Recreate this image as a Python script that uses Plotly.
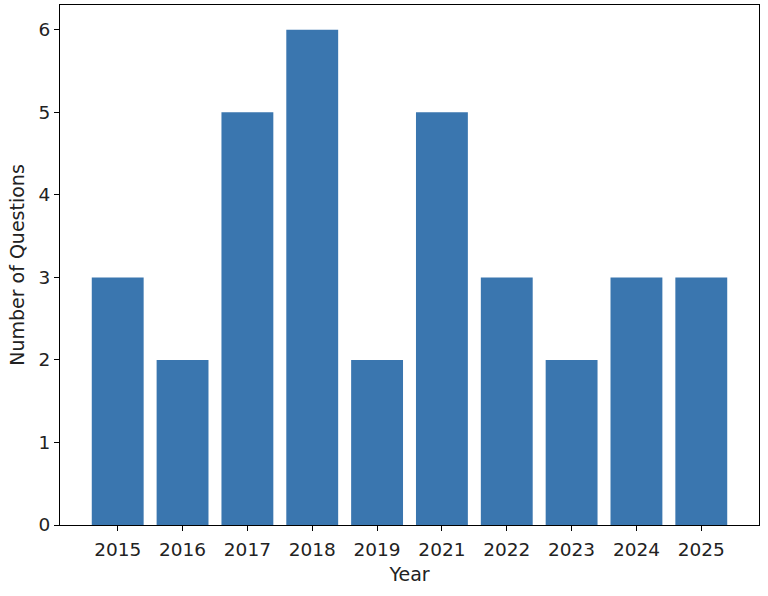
import plotly.graph_objects as gobj

years = ['2015', '2016', '2017', '2018', '2019', '2021', '2022', '2023', '2024', '2025']
question_counts = [3, 2, 5, 6, 2, 5, 3, 2, 3, 3]

fig = gobj.Figure()
fig.add_bar(x=years, y=question_counts, marker_color='#3a76af', marker_line_width=0, width=0.8)

fig.update_xaxes(type='category', range=[-0.89, 9.89], ticks='outside', ticklen=5, tickwidth=1.1,
                 tickcolor='black', showline=True, linecolor='black', linewidth=1.1, mirror=True,
                 showgrid=False, tickfont_size=18.5, ticklabelstandoff=3, title_text='Year',
                 title_font_size=19, title_standoff=8)
fig.update_yaxes(range=[0, 6.3], dtick=1, ticks='outside', ticklen=5, tickwidth=1.1,
                 tickcolor='black', showline=True, linecolor='black', linewidth=1.1, mirror=True,
                 showgrid=False, zeroline=False, tickfont_size=18.5, title_text='Number of Questions',
                 title_font_size=19, title_standoff=8)

fig.update_layout(autosize=False,
    width=768,
    height=596,
    margin=dict(l=60, r=9, t=5, b=71),
    plot_bgcolor='white',
    paper_bgcolor='white',
    font=dict(family='DejaVu Sans', color='#222222'),
    bargap=0.2,
    showlegend=False)

# the page body has a default 8px margin, drop it so the figure sits at the corner
fig.write_html("out.html", config={'displayModeBar': False},
               post_script="document.body.style.margin='0';")
